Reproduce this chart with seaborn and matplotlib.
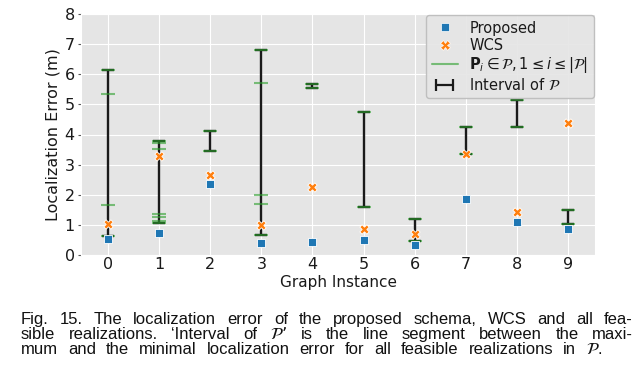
import matplotlib
matplotlib.use("Agg")
import matplotlib.pyplot as plt
from matplotlib.lines import Line2D
from matplotlib.legend_handler import HandlerLine2D
import numpy as np
import pandas as pd
import seaborn as sns

# values
instances = [0, 1, 2, 3, 4, 5, 6, 7, 8, 9]
proposed = [0.53, 0.72, 2.35, 0.41, 0.42, 0.50, 0.33, 1.85, 1.11, 0.87]
wcs = [1.03, 3.29, 2.65, 1.00, 2.25, 0.86, 0.69, 3.35, 1.44, 4.37]
# localization error of every feasible realization P_i, per graph instance
realizations = [
    [0.64, 1.65, 5.36, 6.14],
    [1.07, 1.14, 1.27, 1.36, 3.52, 3.71, 3.79],
    [3.45, 4.11],
    [0.66, 1.69, 1.99, 5.70, 6.80],
    [5.53, 5.68],
    [1.60, 4.76],
    [0.45, 1.19],
    [3.35, 4.25],
    [4.26, 5.15],
    [1.03, 1.49],
]

caption = [
    "Fig. 15. The localization error of the proposed schema, WCS and all fea-",
    "sible realizations. \u2018Interval of $\\mathcal{P}$\u2019 is the line segment between the maxi-",
    "mum and the minimal localization error for all feasible realizations in $\\mathcal{P}$.",
]

sns.set_style(
    "darkgrid",
    rc={
        "axes.facecolor": "#E5E5E5",
        "grid.color": "white",
        "grid.linewidth": 1.0,
        "axes.edgecolor": "white",
        "xtick.bottom": True,
        "ytick.left": True,
        "xtick.color": "#555555",
        "ytick.color": "#555555",
    },
)
plt.rcParams["font.family"] = ["DejaVu Sans"]

W, H = 642, 380
fig = plt.figure(figsize=(W / 100, H / 100), dpi=100)
ax = fig.add_axes([81 / W, 1 - 255 / H, (595 - 81) / W, (255 - 14) / H])

# interval of P: black segment from min to max with caps
lo = np.array([min(r) for r in realizations])
hi = np.array([max(r) for r in realizations])
ax.errorbar(
    instances, lo, yerr=[np.zeros_like(lo), hi - lo], fmt="none",
    ecolor="#1a1a1a", elinewidth=1.7, capsize=4, capthick=1.7, zorder=2,
)

real_df = pd.DataFrame(
    [(i, v) for i, r in zip(instances, realizations) for v in r],
    columns=["instance", "error"],
)
ax.plot(
    real_df["instance"], real_df["error"], ls="none", marker="_",
    ms=10, mew=1.5, color="tab:green", alpha=0.6, zorder=3,
)

pts = pd.DataFrame({"instance": instances, "Proposed": proposed, "WCS": wcs})
sns.scatterplot(data=pts, x="instance", y="Proposed", marker="s", s=40,
                color="tab:blue", linewidth=0.6, ax=ax, zorder=4)
sns.scatterplot(data=pts, x="instance", y="WCS", marker="X", s=45,
                color="tab:orange", linewidth=0.6, ax=ax, zorder=4)

ax.set_xlim(-0.53, 9.53)
ax.set_ylim(0, 8)
ax.set_xticks(instances)
ax.set_yticks(range(0, 9))
ax.tick_params(axis="both", labelsize=11.5, labelcolor="#1a1a1a",
               length=2.5, width=0.8)
ax.tick_params(axis="x", pad=1.5, length=0)
ax.tick_params(axis="y", pad=2)
ax.set_xlabel("Graph Instance", fontsize=11, color="#1a1a1a", labelpad=2)
ax.set_ylabel("Localization Error (m)", fontsize=11.5, color="#1a1a1a", labelpad=3)

interval_handle = Line2D([], [], color="#1a1a1a", lw=1.6, marker="|", ms=9, mew=1.6)
handles = [
    Line2D([], [], ls="none", marker="s", ms=6, color="tab:blue",
           markeredgecolor="white", markeredgewidth=0.5),
    Line2D([], [], ls="none", marker="X", ms=6.5, color="tab:orange",
           markeredgecolor="white", markeredgewidth=0.5),
    Line2D([], [], color="tab:green", alpha=0.6, lw=1.5),
    interval_handle,
]
labels = [
    "Proposed",
    "WCS",
    "$\\mathbf{P}_i \\in \\mathcal{P}, 1 \\leq i \\leq |\\mathcal{P}|$",
    "Interval of $\\mathcal{P}$",
]
leg = ax.legend(
    handles, labels, loc="upper right", fontsize=10.5, numpoints=1,
    handler_map={interval_handle: HandlerLine2D(numpoints=2)},
    frameon=True, facecolor="#E5E5E5", edgecolor="#BBBBBB", framealpha=0.9,
    borderaxespad=0.1, handlelength=1.8, labelspacing=0.15, borderpad=0.35,
)
for t in leg.get_texts():
    t.set_color("#1a1a1a")


def justify(fig, text, y, x0, x1, **kw):
    # place the words of one caption line so they span x0..x1 (pixels)
    words = text.split(" ")
    items = [fig.text(0, y, w, va="baseline", **kw) for w in words]
    r = fig.canvas.get_renderer()
    widths = [t.get_window_extent(r).width for t in items]
    gap = (x1 - x0 - sum(widths)) / (len(words) - 1)
    x = x0
    for t, w in zip(items, widths):
        t.set_x(x / W)
        x += w + gap


cap_kw = dict(fontsize=12, family=["Liberation Sans", "DejaVu Sans"], color="#111111")
justify(fig, caption[0], 1 - 324 / H, 21, 633, **cap_kw)
justify(fig, caption[1], 1 - 339 / H, 21, 633, **cap_kw)
justify(fig, caption[2], 1 - 354 / H, 21, 602, **cap_kw)

fig.savefig("out.png", dpi=100)
